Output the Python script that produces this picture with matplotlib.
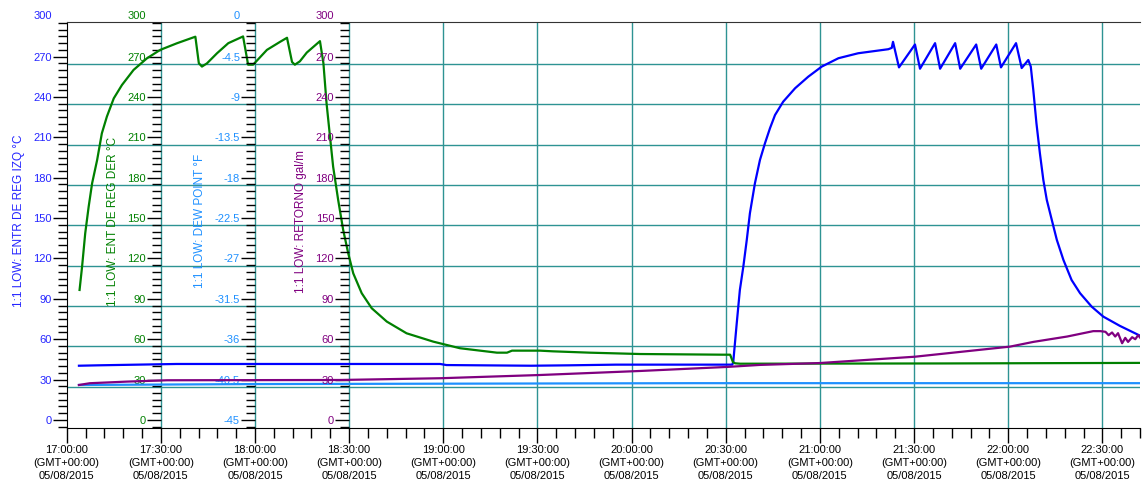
import matplotlib.pyplot as plt
from matplotlib.ticker import MultipleLocator, FuncFormatter
import numpy as np

plt.rcParams['font.family'] = ['Liberation Sans', 'DejaVu Sans']
plt.rcParams['font.size'] = 8

# All times are minutes after 17:00:00 (05/08/2015)

# 1:1 LOW: ENTR DE REG IZQ (deg C)
izq_t = [3.9, 10, 35, 119, 121, 148, 160, 175, 212.1, 212.4, 213.5, 214.5, 215.6,
         216.7, 217.7, 219.3, 220.9, 222.5, 224.1, 225.7, 228.3, 232.1, 236.3,
         240.6, 245.9, 252.2, 261.8, 262.9, 263.3, 265.2,
         270.3, 271.9, 276.7, 278.3, 283.1, 284.7, 289.8, 291.4, 296.2, 297.7,
         302.5, 304.3, 306.4, 307.2, 308.0, 309.0, 310.1, 311.2, 312.3, 313.9,
         315.5, 317.6, 320.2, 322.9, 326.6, 330.3, 335.6, 341.5, 342.1]
izq_v = [40.3, 40.6, 41.6, 41.6, 40.8, 40.3, 40.6, 41.1, 41.1, 43.3, 71.8, 96.6, 113.9,
         133.8, 153.6, 175.9, 193.2, 205.6, 216.8, 226.6, 236.5, 246.5, 255.1,
         262.6, 268.8, 272.5, 275.5, 276.5, 281, 262,
         279, 261, 280, 261, 280, 261, 279, 261, 279, 262,
         280, 261.5, 267.5, 262.6, 245.2, 220.5, 198.2, 178.3, 163.5, 148.6,
         133.8, 118.9, 104.0, 94.2, 84.2, 76.8, 69.9, 63.2, 62.5]

# 1:1 LOW: ENT DE REG DER (deg C)
der_t = [4.1, 4.9, 5.9, 7.0, 8.1, 9.7, 11.2, 12.8, 15.0, 17.6, 21.3, 25.6, 29.8,
         35.1, 41.0, 42.1, 43.1, 44.7, 47.9, 51.5, 56.2, 57.8, 59.4, 63.8, 68.0,
         70.2, 71.8, 72.7, 74.3, 76.5, 80.7, 81.8, 82.8, 83.9, 84.9, 86.5, 88.1,
         89.7, 91.3, 94.0, 97.2, 102.0, 108.3, 116.8, 125.3, 137.1, 140.3, 141.9,
         150.8, 154.9, 166.7, 182.7, 209.1, 211.4, 212.3, 213.0, 214.6, 280, 342]
der_v = [96.6, 113.9, 138.7, 158.5, 175.9, 193.2, 213.0, 225.4, 239.0, 248.9, 260.1,
         268.8, 275.0, 279.9, 284.8, 265.1, 262.6, 265, 272.5, 280, 285, 264, 264,
         275, 281, 284, 266, 264, 266.5, 273, 281.5, 265.1, 235.3, 210.5, 188.2,
         163.5, 141.2, 123.9, 109.0, 94.2, 83.0, 73.1, 64.4, 58.2, 53.3, 50, 50,
         51.5, 51.5, 51, 50, 49, 48.5, 48.5, 43, 42.1, 41.8, 42.0, 42.4]

# 1:1 LOW: DEW POINT (deg F)
dew_t = [3.9, 60, 200, 342]
dew_v = [-41.1, -41.0, -40.9, -40.9]

# 1:1 LOW: RETORNO (gal/m)
ret_t = [3.9, 7.4, 19.2, 32, 87, 119, 150.8, 182.7, 210.4, 220.9, 240, 270.3,
         300.6, 308, 318.8, 327.1, 329.4, 331, 332, 333.1, 334.1, 335, 336.3,
         337.3, 338.2, 339.5, 340.5, 341.4, 342.1]
ret_v = [26, 27.3, 28.5, 29.5, 29.7, 31, 33.4, 36.4, 39.4, 40.9, 42.3, 47,
         54.5, 58, 62, 66, 66, 65.5, 63, 65, 62, 64.5, 57,
         61, 58, 61.5, 60, 63, 61]

tick_times = ['17:00:00', '17:30:00', '18:00:00', '18:30:00', '19:00:00', '19:30:00',
              '20:00:00', '20:30:00', '21:00:00', '21:30:00', '22:00:00', '22:30:00']

grid_c = '#2e9393'

fig = plt.figure(figsize=(11.47, 4.96), dpi=100)
ax = fig.add_axes([66.7 / 1147, 1 - 428.3 / 496, (1140 - 66.7) / 1147, (428.3 - 22.3) / 496])

ax.set_xlim(0, 342)
lo, hi = -6.2, 295.5
ax.set_ylim(lo, hi)

# grid (offset from the y ticks, like the logger software draws it)
for m in np.arange(30, 342, 30):
    ax.axvline(m, color=grid_c, lw=1, zorder=0.5)
for g in np.arange(24.6, 290, 30):
    ax.axhline(g, color=grid_c, lw=1, zorder=0.5)

# x axis
ax.xaxis.set_minor_locator(MultipleLocator(6))
ax.set_xticks(np.arange(len(tick_times)) * 30)
ax.set_xticklabels([t + '\n(GMT+00:00)\n05/08/2015' for t in tick_times], linespacing=1.4)
ax.tick_params(axis='x', which='major', length=11, width=1, pad=1)
ax.tick_params(axis='x', which='minor', length=7, width=1)

ax.spines['right'].set_visible(False)
ax.spines['top'].set_color('#333333')

ax2 = ax.twinx()
ax3 = ax.twinx()
ax4 = ax.twinx()

fmt = FuncFormatter(lambda v, p: '%g' % (0 if abs(v) < 1e-9 else round(v, 2)))

def setup(a, color, pos, ylim, step, top_val, label, lab_x):
    a.set_ylim(*ylim)
    a.yaxis.tick_left()
    a.yaxis.set_label_position('left')
    a.spines['left'].set_position(('axes', pos))
    if pos > 0:
        for s in ['left', 'right', 'top', 'bottom']:
            a.spines[s].set_visible(False)
    a.yaxis.set_major_locator(MultipleLocator(step))
    a.yaxis.set_minor_locator(MultipleLocator(step / 6))
    a.yaxis.set_major_formatter(fmt)
    a.tick_params(axis='y', which='major', length=10, width=1, pad=0.8,
                  colors='black', labelcolor=color)
    a.tick_params(axis='y', which='minor', length=6.5, width=1, colors='black')
    # top label sits just above the frame, like in the logger export
    a.annotate(fmt(top_val, 0), xy=(pos, top_val), xycoords=('axes fraction', 'data'),
               xytext=(-10.8, 0), textcoords='offset points', ha='right', va='center',
               color=color, annotation_clip=False)
    a.set_ylabel(label, color=color, fontsize=8.5)
    a.yaxis.set_label_coords(lab_x, 0.51)

dew_lim = (-45 + lo * 0.15, -45 + hi * 0.15)
setup(ax, '#2424ff', 0, (lo, hi), 30, 300, '1:1 LOW: ENTR DE REG IZQ °C', -0.039)
setup(ax2, '#008000', 94.15 / 1073.3, (lo, hi), 30, 300, '1:1 LOW: ENT DE REG DER °C', 0.049)
setup(ax3, '#1e90ff', 2 * 94.15 / 1073.3, dew_lim, 4.5, 0, '1:1 LOW: DEW POINT °F', 0.130)
setup(ax4, '#800080', 3 * 94.15 / 1073.3, (lo, hi), 30, 300, '1:1 LOW: RETORNO gal/m', 0.224)

ax3.plot(dew_t, dew_v, color='#1e90ff', lw=1.6)
ax4.plot(ret_t, ret_v, color='#800080', lw=1.6)
ax2.plot(der_t, der_v, color='#008000', lw=1.6)
ax.plot(izq_t, izq_v, color='#0000ff', lw=1.6, zorder=3)

fig.savefig('out.png', dpi=100)
